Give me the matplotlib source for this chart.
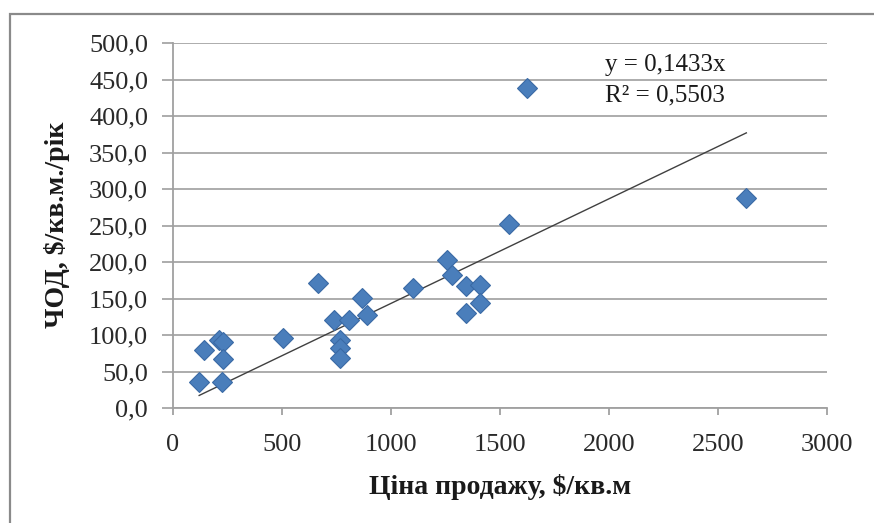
import matplotlib
matplotlib.use("Agg")
import matplotlib.pyplot as plt
import numpy as np
from matplotlib.patches import Rectangle

# values
price = [120, 143, 211, 230, 231, 224, 504, 663, 737, 808, 868, 892,
	767, 767, 767, 1102, 1259, 1280, 1346, 1406, 1406, 1346, 1539,
	1626, 2630]
noi = [35, 79, 93, 90, 67, 35, 96, 171, 121, 121, 151, 127,
	93, 82, 68, 164, 203, 182, 167, 168, 144, 130, 252,
	439, 288]
slope = 0.1433
r2 = 0.5503

x_ticks = [0, 500, 1000, 1500, 2000, 2500, 3000]
y_ticks = [0, 50, 100, 150, 200, 250, 300, 350, 400, 450, 500]

plt.rcParams['font.family'] = ['Liberation Serif', 'DejaVu Serif']

fig = plt.figure(figsize=(8.74, 5.23), dpi=100)

# outer chart border (cut off at right and bottom like the scan)
fig.patches.append(Rectangle((10 / 874, -0.05), 1.0, 1 - 14 / 523 + 0.05,
	transform=fig.transFigure, fill=False, edgecolor='#8a8a8a',
	linewidth=1.6))

ax = fig.add_axes([173 / 874, 1 - 408 / 523, (827 - 173) / 874,
	(408 - 43) / 523])

ax.set_xlim(0, 3000)
ax.set_ylim(0, 500)
ax.set_xticks(x_ticks)
ax.set_yticks(y_ticks)
ax.set_yticklabels(["{0:.1f}".format(v).replace(".", ",") for v in y_ticks])

ax.grid(axis='y', color='#a6a6a6', linewidth=1.3)
ax.set_axisbelow(True)
for s in ['top', 'right']:
	ax.spines[s].set_visible(False)
for s in ['left', 'bottom']:
	ax.spines[s].set_color('#a0a0a0')
	ax.spines[s].set_linewidth(1.3)

ax.tick_params(axis='y', length=8, width=1.3, color='#a6a6a6', pad=10,
	labelsize=19, labelcolor='#2a2a2a')
ax.tick_params(axis='x', length=5, width=1.3, color='#a0a0a0', pad=14,
	labelsize=19, labelcolor='#2a2a2a')

# trend line through origin
xs = np.array([min(price), max(price)])
ax.plot(xs, slope * xs, color='#404040', linewidth=1.0, zorder=2)

ax.plot(price, noi, linestyle='none', marker='D', markersize=10.5,
	markerfacecolor='#4a7ebb', markeredgecolor='#3a6aa5',
	markeredgewidth=0.8, zorder=3)

# trendline label
ax.text(605 / 874, 1 - 65 / 523, "y = {0}x".format(str(slope).replace(".", ",")),
	transform=fig.transFigure, fontsize=18, color='#1a1a1a', va='center')
ax.text(605 / 874, 1 - 95 / 523, "R² = {0}".format(str(r2).replace(".", ",")),
	transform=fig.transFigure, fontsize=18, color='#1a1a1a', va='center')

fig.text(500 / 874, 1 - 487 / 523, "Ціна продажу, $/кв.м", fontsize=20,
	fontweight='bold', ha='center', va='center', color='#1a1a1a')
fig.text(57 / 874, 1 - 225 / 523, "ЧОД, $/кв.м./рік", fontsize=20,
	fontweight='bold', ha='center', va='center', rotation=90,
	color='#1a1a1a')

fig.savefig("out.png", dpi=100)
